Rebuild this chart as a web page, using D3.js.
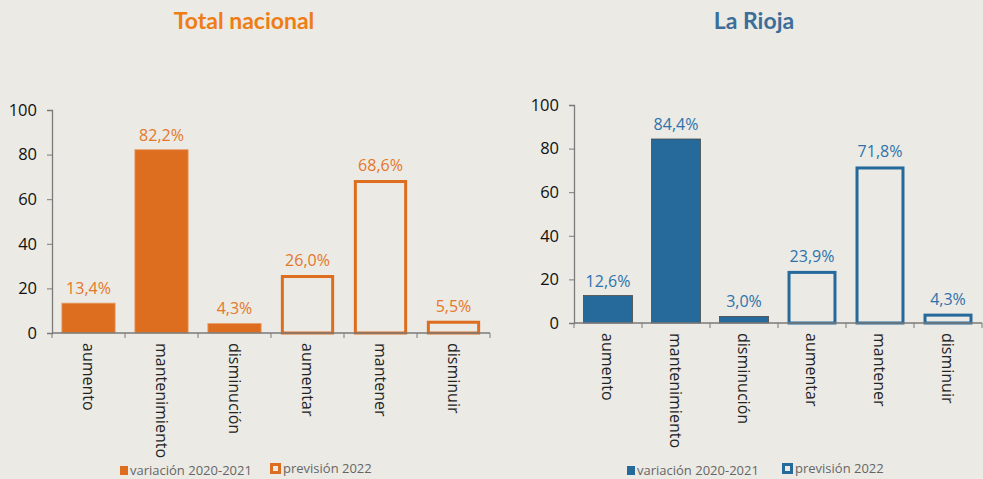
<!DOCTYPE html>
<html>
<head>
<meta charset="utf-8">
<script src="https://cdn.jsdelivr.net/npm/d3@7"></script>
<style>
  body { margin: 0; background: #ebeae5; }
  svg { display: block; }
</style>
</head>
<body>
<svg width="983" height="479"></svg>
<script>
const categories = ['aumento', 'mantenimiento', 'disminución', 'aumentar', 'mantener', 'disminuir']
const seriesOf = ['var', 'var', 'var', 'prev', 'prev', 'prev']
const nacional = [13.4, 82.2, 4.3, 26.0, 68.6, 5.5]
const rioja = [12.6, 84.4, 3.0, 23.9, 71.8, 4.3]
const legendLabels = ['variación 2020-2021', 'previsión 2022']
const yTicks = [0, 20, 40, 60, 80, 100]

let svg = d3.select('svg')
svg.append('rect').attr('width', 983).attr('height', 479).attr('fill', '#ebeae5')

const fmt = v => v.toFixed(1).replace('.', ',') + '%'

function drawPanel(p) {
	let x = d3.scaleBand().domain(categories).range([p.x0, p.x1]).paddingInner(p.pad).paddingOuter(p.pad / 2)
	let y = d3.scaleLinear().domain([0, 100]).range([p.y0, p.y1])
	let g = svg.append('g')

	// title
	g.append('text').attr('x', p.titleX).attr('y', 29)
	.attr('text-anchor', 'middle')
	.attr('font-family', 'Lato').attr('font-weight', 'bold').attr('font-size', 23)
	.attr('fill', p.titleColor).text(p.title)

	// y axis
	let ya = g.append('g').attr('transform', `translate(${p.x0},0)`)
	.call(d3.axisLeft(y).tickValues(yTicks).tickSize(5).tickPadding(10))
	ya.select('.domain').attr('stroke', '#7a7a7a').attr('stroke-width', 1.3)
	ya.selectAll('.tick line').attr('stroke', '#7a7a7a')
	ya.selectAll('.tick text').attr('font-family', 'Open Sans').attr('font-size', 16.5).attr('fill', '#111')

	// bars
	let data = categories.map((c, i) => ({ cat: c, v: p.values[i], s: seriesOf[i] }))
	g.selectAll('rect.bar').data(data).enter().append('rect').attr('class', 'bar')
	.attr('x', d => d.s === 'var' ? x(d.cat) : x(d.cat) + 1.5)
	.attr('y', d => d.s === 'var' ? y(d.v) : y(d.v) + 1.5)
	.attr('width', d => d.s === 'var' ? x.bandwidth() : x.bandwidth() - 3)
	.attr('height', d => d.s === 'var' ? y(0) - y(d.v) : Math.max(0, y(0) - y(d.v) - 1.5))
	.attr('fill', d => d.s === 'var' ? p.fill : 'none')
	.attr('stroke', d => d.s === 'var' ? p.edge : p.fill)
	.attr('stroke-width', d => d.s === 'var' ? 0.8 : 3)

	// value labels
	g.selectAll('text.val').data(data).enter().append('text').attr('class', 'val')
	.attr('x', d => x(d.cat) + x.bandwidth() / 2)
	.attr('y', d => y(d.v) - 9)
	.attr('text-anchor', 'middle')
	.attr('font-family', 'Open Sans').attr('font-size', 16)
	.attr('fill', p.labelColor).text(d => fmt(d.v))

	// x axis line + boundary ticks
	g.append('line').attr('x1', p.x0).attr('x2', p.x1).attr('y1', p.y0).attr('y2', p.y0)
	.attr('stroke', '#7a7a7a').attr('stroke-width', 1.3)
	let bounds = d3.range(categories.length + 1).map(i => p.x0 + i * x.step())
	g.selectAll('line.xt').data(bounds).enter().append('line').attr('class', 'xt')
	.attr('x1', d => d).attr('x2', d => d).attr('y1', p.y0).attr('y2', p.y0 + 5)
	.attr('stroke', '#7a7a7a')

	// category labels (rotated)
	g.selectAll('text.cat').data(categories).enter().append('text').attr('class', 'cat')
	.attr('transform', d => `translate(${x(d) + x.bandwidth() / 2},${p.y0 + 10}) rotate(90)`)
	.attr('dy', '0.35em')
	.attr('font-family', 'Open Sans').attr('font-size', 16).attr('fill', '#222')
	.text(d => d)

	// legend
	let lg = g.append('g').attr('font-family', 'Open Sans').attr('font-size', 13).attr('fill', '#666')
	lg.append('rect').attr('x', p.legX[0]).attr('y', 466).attr('width', 8).attr('height', 9).attr('fill', p.fill)
	lg.append('text').attr('x', p.legX[0] + 10).attr('y', 475).text(legendLabels[0])
	lg.append('rect').attr('x', p.legX[1] + 1.5).attr('y', 464.5).attr('width', 8).attr('height', 8)
	.attr('fill', 'none').attr('stroke', p.fill).attr('stroke-width', 3)
	lg.append('text').attr('x', p.legX[1] + 13).attr('y', 473).text(legendLabels[1])
}

drawPanel({
	title: 'Total nacional', titleX: 244, titleColor: '#ee7d14',
	values: nacional, x0: 52, x1: 490, y0: 333, y1: 110, pad: 0.27,
	fill: '#de6e1f', edge: '#e8a070', labelColor: '#e5772a',
	legX: [120, 270]
})

drawPanel({
	title: 'La Rioja', titleX: 754, titleColor: '#3c6e99',
	values: rioja, x0: 574, x1: 982, y0: 323, y1: 105, pad: 0.28,
	fill: '#266a9c', edge: '#4a4a4a', labelColor: '#2e72ac',
	legX: [627, 782]
})
</script>
</body>
</html>
